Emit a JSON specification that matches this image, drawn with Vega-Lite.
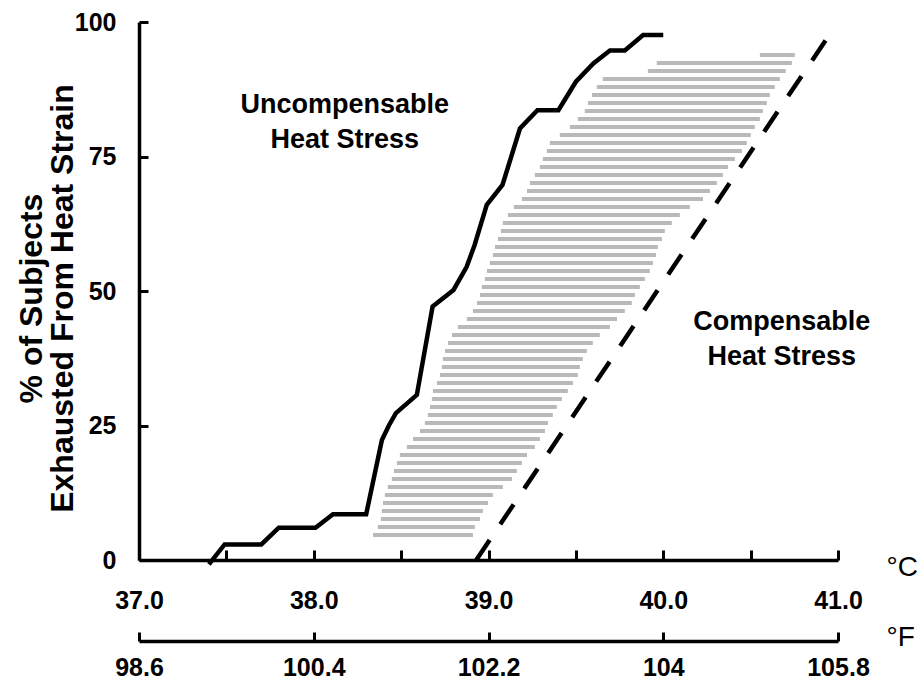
{
  "$schema": "https://vega.github.io/schema/vega-lite/v6.json",
  "width": 699,
  "height": 538,
  "autosize": {"type": "none"},
  "padding": {"left": 139, "top": 22, "right": 81, "bottom": 120},
  "background": "white",
  "config": {
    "view": {"stroke": null},
    "font": "Liberation Sans",
    "axis": {"grid": false, "domainColor": "black", "tickColor": "black", "labelColor": "black", "titleColor": "black", "labelFont": "Liberation Sans", "titleFont": "Liberation Sans"}
  },
  "datasets": {
    "stripes": [
      {"y": 93.87, "x": 40.553, "xr": 40.753},
      {"y": 92.38, "x": 39.963, "xr": 40.736},
      {"y": 90.89, "x": 39.912, "xr": 40.701},
      {"y": 89.41, "x": 39.654, "xr": 40.667},
      {"y": 87.92, "x": 39.620, "xr": 40.638},
      {"y": 86.43, "x": 39.592, "xr": 40.610},
      {"y": 84.94, "x": 39.569, "xr": 40.593},
      {"y": 83.46, "x": 39.551, "xr": 40.570},
      {"y": 81.97, "x": 39.511, "xr": 40.553},
      {"y": 80.48, "x": 39.466, "xr": 40.524},
      {"y": 79.00, "x": 39.408, "xr": 40.501},
      {"y": 77.51, "x": 39.351, "xr": 40.478},
      {"y": 76.02, "x": 39.334, "xr": 40.450},
      {"y": 74.54, "x": 39.311, "xr": 40.410},
      {"y": 73.05, "x": 39.294, "xr": 40.370},
      {"y": 71.56, "x": 39.265, "xr": 40.341},
      {"y": 70.07, "x": 39.237, "xr": 40.307},
      {"y": 68.59, "x": 39.220, "xr": 40.267},
      {"y": 67.10, "x": 39.191, "xr": 40.227},
      {"y": 65.61, "x": 39.145, "xr": 40.152},
      {"y": 64.13, "x": 39.111, "xr": 40.095},
      {"y": 62.64, "x": 39.082, "xr": 40.049},
      {"y": 61.15, "x": 39.071, "xr": 40.009},
      {"y": 59.67, "x": 39.054, "xr": 39.992},
      {"y": 58.18, "x": 39.037, "xr": 39.969},
      {"y": 56.69, "x": 39.025, "xr": 39.958},
      {"y": 55.20, "x": 39.008, "xr": 39.941},
      {"y": 53.72, "x": 38.991, "xr": 39.923},
      {"y": 52.23, "x": 38.979, "xr": 39.895},
      {"y": 50.74, "x": 38.962, "xr": 39.866},
      {"y": 49.26, "x": 38.951, "xr": 39.838},
      {"y": 47.77, "x": 38.934, "xr": 39.820},
      {"y": 46.28, "x": 38.911, "xr": 39.780},
      {"y": 44.80, "x": 38.876, "xr": 39.735},
      {"y": 43.31, "x": 38.825, "xr": 39.695},
      {"y": 41.82, "x": 38.791, "xr": 39.637},
      {"y": 40.33, "x": 38.768, "xr": 39.597},
      {"y": 38.85, "x": 38.751, "xr": 39.563},
      {"y": 37.36, "x": 38.739, "xr": 39.540},
      {"y": 35.87, "x": 38.733, "xr": 39.523},
      {"y": 34.39, "x": 38.722, "xr": 39.511},
      {"y": 32.90, "x": 38.705, "xr": 39.483},
      {"y": 31.41, "x": 38.682, "xr": 39.454},
      {"y": 29.93, "x": 38.676, "xr": 39.420},
      {"y": 28.44, "x": 38.665, "xr": 39.391},
      {"y": 26.95, "x": 38.653, "xr": 39.368},
      {"y": 25.46, "x": 38.636, "xr": 39.340},
      {"y": 23.98, "x": 38.608, "xr": 39.323},
      {"y": 22.49, "x": 38.568, "xr": 39.294},
      {"y": 21.00, "x": 38.533, "xr": 39.265},
      {"y": 19.52, "x": 38.493, "xr": 39.220},
      {"y": 18.03, "x": 38.476, "xr": 39.191},
      {"y": 16.54, "x": 38.459, "xr": 39.162},
      {"y": 15.06, "x": 38.447, "xr": 39.134},
      {"y": 13.57, "x": 38.424, "xr": 39.082},
      {"y": 12.08, "x": 38.407, "xr": 39.025},
      {"y": 10.59, "x": 38.396, "xr": 38.997},
      {"y": 9.11, "x": 38.390, "xr": 38.968},
      {"y": 7.62, "x": 38.384, "xr": 38.951},
      {"y": 6.13, "x": 38.367, "xr": 38.922},
      {"y": 4.65, "x": 38.339, "xr": 38.911}
    ],
    "curve": [
      {"i": 1, "x": 37.40, "y": -0.8},
      {"i": 2, "x": 37.49, "y": 2.9},
      {"i": 3, "x": 37.70, "y": 2.9},
      {"i": 4, "x": 37.80, "y": 6.0},
      {"i": 5, "x": 38.01, "y": 6.0},
      {"i": 6, "x": 38.11, "y": 8.5},
      {"i": 7, "x": 38.30, "y": 8.5},
      {"i": 8, "x": 38.39, "y": 22.3},
      {"i": 9, "x": 38.43, "y": 25.0},
      {"i": 10, "x": 38.47, "y": 27.3},
      {"i": 11, "x": 38.59, "y": 30.7},
      {"i": 12, "x": 38.68, "y": 47.1},
      {"i": 13, "x": 38.80, "y": 50.2},
      {"i": 14, "x": 38.875, "y": 54.5},
      {"i": 15, "x": 38.92, "y": 58.5},
      {"i": 16, "x": 38.99, "y": 66.0},
      {"i": 17, "x": 39.08, "y": 69.7},
      {"i": 18, "x": 39.18, "y": 80.2},
      {"i": 19, "x": 39.28, "y": 83.6},
      {"i": 20, "x": 39.40, "y": 83.6},
      {"i": 21, "x": 39.50, "y": 88.9},
      {"i": 22, "x": 39.60, "y": 92.3},
      {"i": 23, "x": 39.695, "y": 94.7},
      {"i": 24, "x": 39.78, "y": 94.7},
      {"i": 25, "x": 39.885, "y": 97.6},
      {"i": 26, "x": 40.00, "y": 97.6}
    ],
    "dashed": [
      {"x": 38.93, "y": 0},
      {"x": 40.95, "y": 97.6}
    ],
    "notes": [
      {"x": 38.178, "y": 84.57, "text": "Uncompensable\nHeat Stress"},
      {"x": 40.678, "y": 44.24, "text": "Compensable\nHeat Stress"}
    ],
    "fahrenheit": [
      {"f": 98.6}, {"f": 100.4}, {"f": 102.2}, {"f": 104}, {"f": 105.8}
    ]
  },
  "layer": [
    {
      "encoding": {
        "x": {
          "field": "x", "type": "quantitative",
          "scale": {"domain": [37, 41], "nice": false, "zero": false},
          "axis": {
            "orient": "bottom",
            "values": [37, 37.5, 38, 38.5, 39, 39.5, 40, 40.5, 41],
            "format": ".1f",
            "labelExpr": "datum.value % 1 == 0 ? datum.label : ''",
            "labelFlush": false,
            "labelOverlap": false,
            "labelFontSize": 25,
            "labelFontWeight": "bold",
            "labelPadding": 38,
            "domainWidth": 3.5,
            "tickWidth": 3,
            "tickSize": -10,
            "title": "°C",
            "titleFontSize": 28,
            "titleFontWeight": "normal",
            "titleAlign": "left",
            "titleBaseline": "alphabetic",
            "titleX": 747,
            "titleY": 15,
            "titleAngle": 0
          }
        },
        "y": {
          "field": "y", "type": "quantitative",
          "scale": {"domain": [0, 100], "nice": false, "zero": false},
          "axis": {
            "values": [0, 25, 50, 75, 100],
            "labelFontSize": 25,
            "labelFontWeight": "bold",
            "labelPadding": 32,
            "domainWidth": 3.5,
            "tickWidth": 3,
            "tickSize": -9,
            "title": ["% of Subjects", "Exhausted From Heat Strain"],
            "titleFontSize": 32,
            "titleFontWeight": "bold",
            "titleLineHeight": 31,
            "titleAngle": -90,
            "titleAlign": "center",
            "titleBaseline": "middle",
            "titleX": -108,
            "titleY": 276
          }
        }
      },
      "layer": [
        {
          "data": {"name": "stripes"},
          "mark": {"type": "rule", "stroke": "#b9b9b9", "strokeWidth": 4},
          "encoding": {"x2": {"field": "xr"}}
        },
        {
          "data": {"name": "dashed"},
          "mark": {"type": "line", "stroke": "black", "strokeWidth": 4.5, "strokeDash": [24, 19]},
          "encoding": {}
        },
        {
          "data": {"name": "curve"},
          "mark": {"type": "line", "stroke": "black", "strokeWidth": 4.5},
          "encoding": {"order": {"field": "i", "type": "quantitative"}}
        },
        {
          "data": {"name": "notes"},
          "mark": {"type": "text", "fontSize": 27, "fontWeight": "bold", "font": "Liberation Sans", "align": "center", "baseline": "middle", "lineBreak": "\n", "lineHeight": 35, "color": "black"},
          "encoding": {"text": {"field": "text"}}
        }
      ]
    },
    {
      "data": {"name": "fahrenheit"},
      "mark": {"type": "point", "opacity": 0},
      "encoding": {
        "x": {
          "field": "f", "type": "quantitative",
          "scale": {"domain": [98.6, 105.8], "nice": false, "zero": false},
          "axis": {
            "orient": "bottom",
            "offset": 81,
            "values": [98.6, 100.4, 102.2, 104, 105.8],
            "format": ".4~g",
            "labelFlush": false,
            "labelOverlap": false,
            "labelFontSize": 25,
            "labelFontWeight": "bold",
            "labelPadding": 23,
            "domainWidth": 3.5,
            "tickWidth": 3,
            "tickSize": -9,
            "title": "°F",
            "titleFontSize": 28,
            "titleFontWeight": "normal",
            "titleAlign": "left",
            "titleBaseline": "alphabetic",
            "titleX": 747,
            "titleY": 4,
            "titleAngle": 0
          }
        }
      }
    }
  ],
  "resolve": {"scale": {"x": "independent"}}
}
